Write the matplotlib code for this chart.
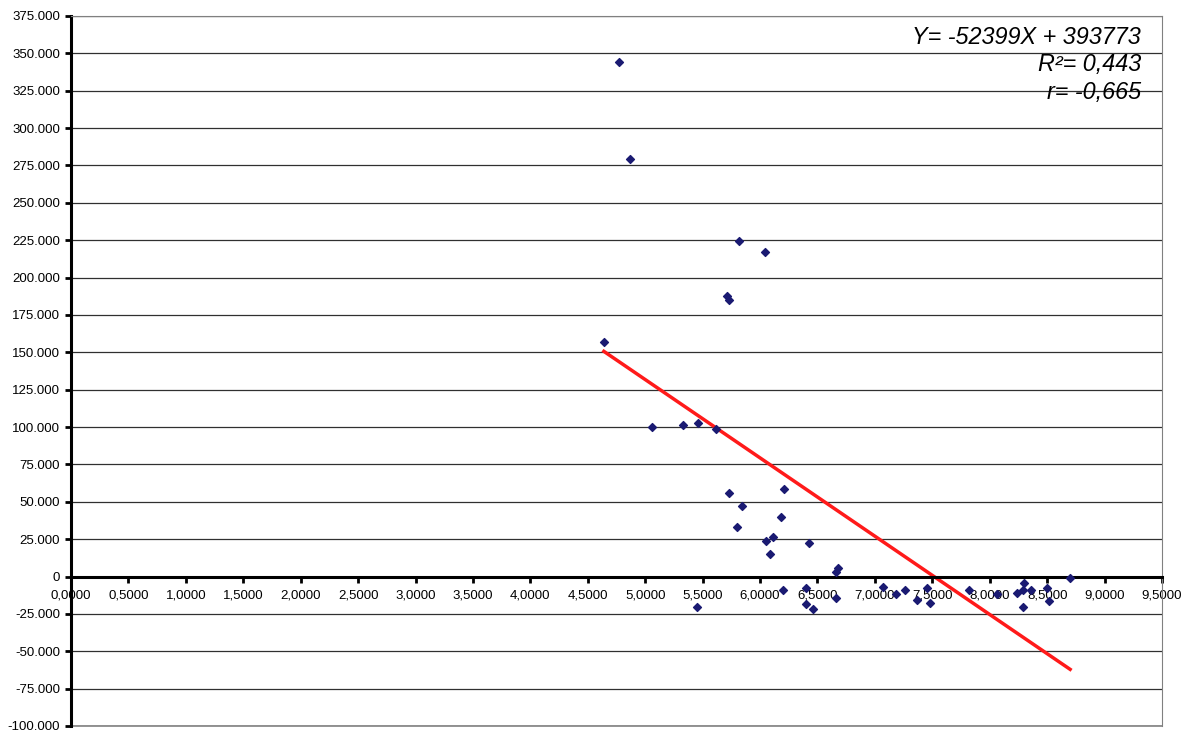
import matplotlib.pyplot as plt
from matplotlib.ticker import FuncFormatter, MultipleLocator

plt.rcParams['font.family'] = ['Liberation Sans', 'DejaVu Sans']

# valores
x_vals = [4.77, 4.87, 5.82, 6.04, 5.71, 5.73, 4.64,
          5.06, 5.33, 5.46, 5.62, 5.73, 5.84, 5.80, 6.05, 6.11, 6.09,
          6.21, 6.18, 6.43, 6.66, 6.68,
          6.20, 6.40, 6.40, 6.46, 5.45, 6.66,
          7.07, 7.18, 7.26, 7.37, 7.45, 7.48, 7.82, 8.06,
          8.24, 8.29, 8.30, 8.29, 8.36, 8.50, 8.52, 8.70]
y_vals = [344200, 279400, 224600, 217200, 187800, 185100, 157100,
          99800, 101100, 102500, 98700, 56100, 47500, 33200, 24100, 26700, 15400,
          58600, 39900, 22100, 3100, 5800,
          -8900, -7400, -18200, -21600, -20300, -14700,
          -6700, -12000, -8900, -15600, -8000, -18000, -8900, -11600,
          -11100, -8700, -4500, -20500, -9100, -7600, -16700, -1100]

slope = -52399
intercept = 393773
eq_lines = ['Y= -52399X + 393773', 'R²= 0,443', 'r= -0,665']

fig = plt.figure(figsize=(11.88, 7.32), dpi=100)
ax = fig.add_axes([71 / 1188, 6 / 732, 1091 / 1188, 710 / 732])

ax.set_xlim(0, 9.5)
ax.set_ylim(-100000, 375000)
ax.xaxis.set_major_locator(MultipleLocator(0.5))
ax.yaxis.set_major_locator(MultipleLocator(25000))

ax.yaxis.grid(True, color='#303030', linewidth=0.9)
ax.set_axisbelow(True)

ax.spines['bottom'].set_position(('data', 0))
ax.spines['bottom'].set_linewidth(2.2)
ax.spines['left'].set_linewidth(2.2)
ax.spines['top'].set_color('#808080')
ax.spines['right'].set_color('#808080')
# borda inferior da area do grafico
ax.axhline(-100000, color='#808080', linewidth=1.2, clip_on=False)

ax.tick_params(axis='x', direction='out', length=4, width=2, pad=5, labelsize=9.5)
ax.tick_params(axis='y', direction='out', length=4, width=2, pad=4, labelsize=9.5)


def fmt_y(v, pos):
    if v == 0:
        return '0'
    return '{:,.0f}'.format(v).replace(',', '.')


def fmt_x(v, pos):
    return '{:.4f}'.format(v).replace('.', ',')


ax.yaxis.set_major_formatter(FuncFormatter(fmt_y))
ax.xaxis.set_major_formatter(FuncFormatter(fmt_x))

ax.scatter(x_vals, y_vals, marker='D', s=16, color='#1a1a72', zorder=3)

x0 = min(x_vals)
x1 = max(x_vals)
ax.plot([x0, x1], [slope * x0 + intercept, slope * x1 + intercept],
        color='#ff1a1a', linewidth=2.5, zorder=2)

for i, line in enumerate(eq_lines):
    fig.text(1141 / 1188, 1 - (37 + 28 * i) / 732, line, ha='right', va='center',
             fontsize=16.8, style='italic')

plt.savefig('out.png', dpi=100)
